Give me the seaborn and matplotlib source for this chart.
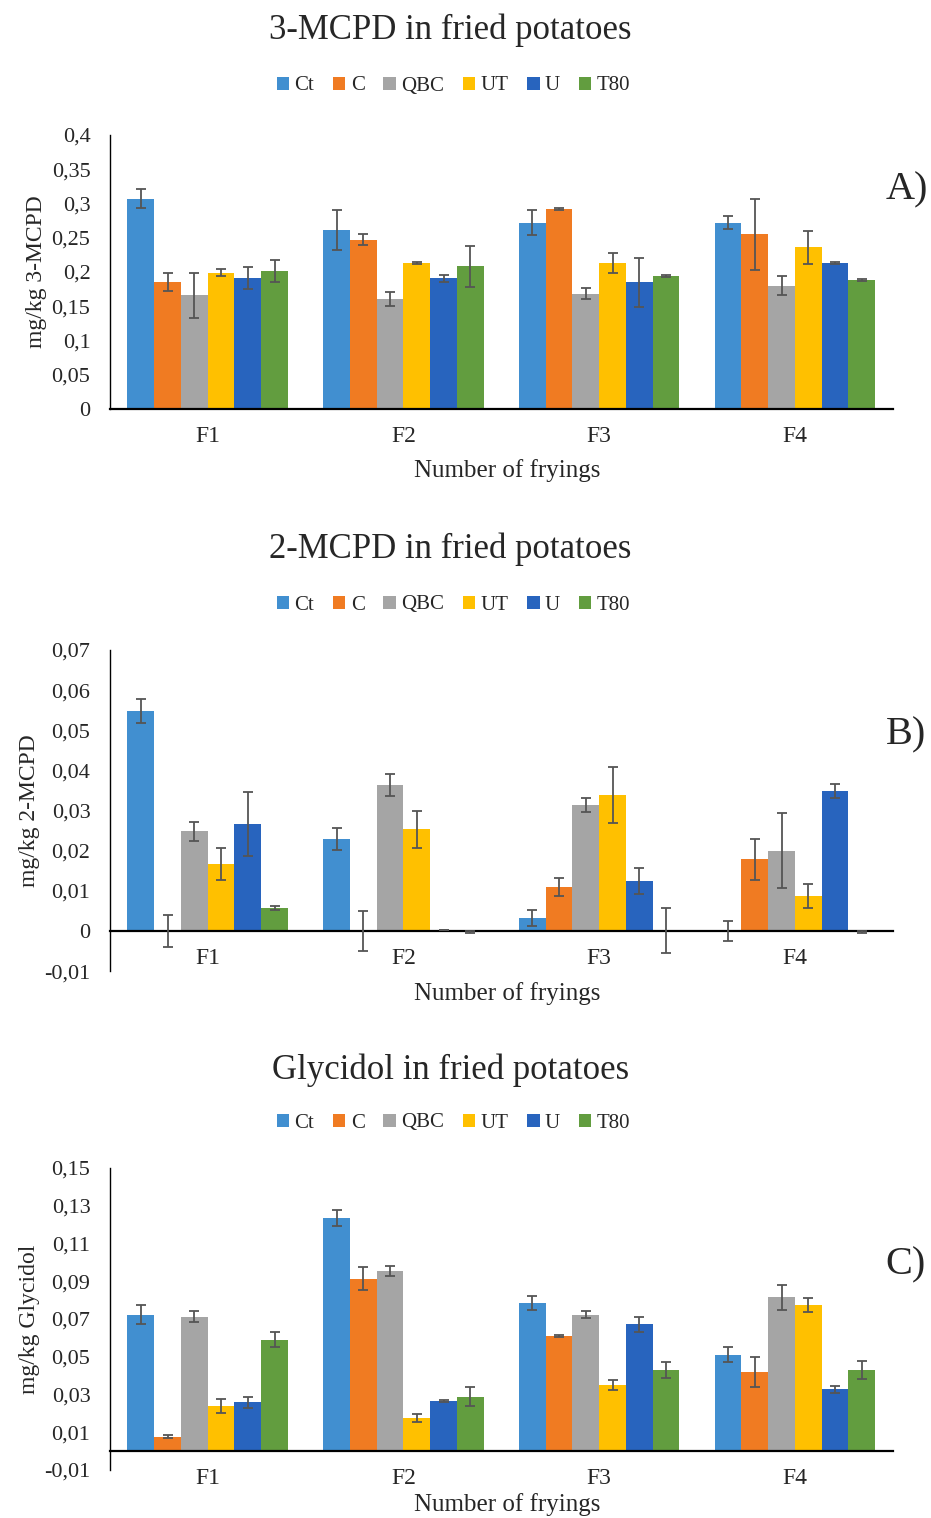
import numpy as np
import pandas as pd
import matplotlib
matplotlib.use("Agg")
import matplotlib.pyplot as plt
from matplotlib.ticker import FuncFormatter
import seaborn as sns

# categories
fryings = ["F1", "F2", "F3", "F4"]
oils = ["Ct", "C", "QBC", "UT", "U", "T80"]
colors = ["#418FD0", "#F07B22", "#A5A5A5", "#FFC000", "#2864BE", "#629D3F"]

# 3-MCPD means / errors (one list per oil, over F1..F4)
mcpd3_ct = [0.307, 0.261, 0.272, 0.272]
mcpd3_c = [0.185, 0.247, 0.292, 0.255]
mcpd3_qbc = [0.166, 0.161, 0.168, 0.180]
mcpd3_ut = [0.199, 0.213, 0.213, 0.236]
mcpd3_u = [0.191, 0.191, 0.185, 0.213]
mcpd3_t80 = [0.202, 0.208, 0.194, 0.188]
mcpd3_err = [
    [0.014, 0.029, 0.018, 0.010],
    [0.013, 0.008, 0.002, 0.052],
    [0.033, 0.010, 0.008, 0.014],
    [0.005, 0.002, 0.014, 0.024],
    [0.016, 0.005, 0.036, 0.002],
    [0.016, 0.030, 0.002, 0.001],
]

# 2-MCPD
mcpd2_ct = [0.0548, 0.0229, 0.0033, 0.0]
mcpd2_c = [0.0, 0.0, 0.011, 0.0178]
mcpd2_qbc = [0.0248, 0.0363, 0.0314, 0.020]
mcpd2_ut = [0.0167, 0.0253, 0.0339, 0.0088]
mcpd2_u = [0.0267, 0.0003, 0.0125, 0.0348]
mcpd2_t80 = [0.0058, -0.0003, 0.0, -0.0003]
mcpd2_err = [
    [0.003, 0.0027, 0.002, 0.0025],
    [0.004, 0.005, 0.0022, 0.005],
    [0.0023, 0.0027, 0.0017, 0.0094],
    [0.004, 0.0047, 0.007, 0.003],
    [0.008, 0.0, 0.0032, 0.0018],
    [0.0005, 0.0003, 0.0056, 0.0003],
]

# Glycidol
gly_ct = [0.0722, 0.1235, 0.0784, 0.051]
gly_c = [0.0076, 0.0913, 0.0612, 0.0418]
gly_qbc = [0.0713, 0.0956, 0.0722, 0.0814]
gly_ut = [0.0239, 0.0177, 0.035, 0.0775]
gly_u = [0.0258, 0.0267, 0.0673, 0.0327]
gly_t80 = [0.0589, 0.0288, 0.043, 0.043]
gly_err = [
    [0.005, 0.004, 0.0037, 0.004],
    [0.0007, 0.006, 0.0005, 0.008],
    [0.0027, 0.0027, 0.0018, 0.0067],
    [0.0037, 0.002, 0.0027, 0.0036],
    [0.0029, 0.0005, 0.004, 0.002],
    [0.004, 0.005, 0.004, 0.0048],
]

sns.set_style("white")
plt.rcParams["font.family"] = ["Liberation Serif", "DejaVu Serif"]


def long_df(series):
    rows = []
    for oil, vals in zip(oils, series):
        for f, v in zip(fryings, vals):
            rows.append({"frying": f, "oil": oil, "value": v})
    return pd.DataFrame(rows)


def comma(v, pos):
    s = "{:g}".format(round(v, 3))
    return s.replace(".", ",")


fig = plt.figure(figsize=(9.31, 15.18), dpi=100)

panels = [
    # data, errors, title, ylabel, letter, ylim, ticks, axes rect, title y, legend y, xlabel y, letter y
    ([mcpd3_ct, mcpd3_c, mcpd3_qbc, mcpd3_ut, mcpd3_u, mcpd3_t80], mcpd3_err,
     "3-MCPD in fried potatoes", "mg/kg 3-MCPD", "A)", (0, 0.4),
     np.arange(0, 0.401, 0.05), [0.118, 0.7306, 0.841, 0.1805], 30, 86, 471, 190),
    ([mcpd2_ct, mcpd2_c, mcpd2_qbc, mcpd2_ut, mcpd2_u, mcpd2_t80], mcpd2_err,
     "2-MCPD in fried potatoes", "mg/kg 2-MCPD", "B)", (-0.01, 0.07),
     np.arange(-0.01, 0.0701, 0.01), [0.118, 0.3603, 0.841, 0.2115], 549, 605, 994, 735),
    ([gly_ct, gly_c, gly_qbc, gly_ut, gly_u, gly_t80], gly_err,
     "Glycidol in fried potatoes", "mg/kg Glycidol", "C)", (-0.01, 0.15),
     np.arange(-0.01, 0.1501, 0.02), [0.118, 0.0316, 0.841, 0.199], 1070, 1123, 1505, 1265),
]

H = 1518.0
for series, errs, title, ylabel, letter, ylim, ticks, rect, ty, ly, xy, lety in panels:
    ax = fig.add_axes(rect)
    df = long_df(series)
    sns.barplot(data=df, x="frying", y="value", hue="oil", order=fryings,
                hue_order=oils, palette=colors, saturation=1, width=0.82,
                errorbar=None, linewidth=0, ax=ax)
    # error bars at the bar centres
    for cont, err in zip(ax.containers, errs):
        xs = [b.get_x() + b.get_width() / 2 for b in cont]
        ys = [b.get_y() + b.get_height() for b in cont]
        ax.errorbar(xs, ys, yerr=err, fmt="none", ecolor="#555555",
                    elinewidth=1.3, capsize=3.5, capthick=1.3, zorder=5)

    handles, labels = ax.get_legend_handles_labels()
    ax.get_legend().remove()
    fig.legend(handles, labels, loc="center", bbox_to_anchor=(0.487, 1 - ly / H),
               ncol=6, frameon=False, fontsize=15, handlelength=0.6,
               handleheight=0.6, handletextpad=0.25, columnspacing=0.9)

    ax.set_ylim(*ylim)
    ax.set_xlim(-0.5, 3.5)
    ax.set_yticks(ticks)
    ax.yaxis.set_major_formatter(FuncFormatter(comma))
    ax.tick_params(axis="y", length=0, labelsize=16, pad=14)
    ax.tick_params(axis="x", length=0, pad=12, labelsize=17)
    ax.set_xlabel("")
    ax.set_ylabel(ylabel, fontsize=17, labelpad=3)
    for s in ["top", "right"]:
        ax.spines[s].set_visible(False)
    ax.spines["left"].set_color("#000000")
    ax.spines["left"].set_linewidth(1.0)
    ax.spines["bottom"].set_color("#000000")
    ax.spines["bottom"].set_linewidth(1.6)
    ax.spines["bottom"].set_position(("data", 0))
    ax.set_zorder(1)

    fig.text(0.484, 1 - ty / H, title, ha="center", va="center", fontsize=25)
    fig.text(0.545, 1 - xy / H, "Number of fryings", ha="center", va="center", fontsize=18)
    fig.text(0.951, 1 - lety / H, letter, ha="left", va="center", fontsize=29)

fig.savefig("out.png", dpi=100)
